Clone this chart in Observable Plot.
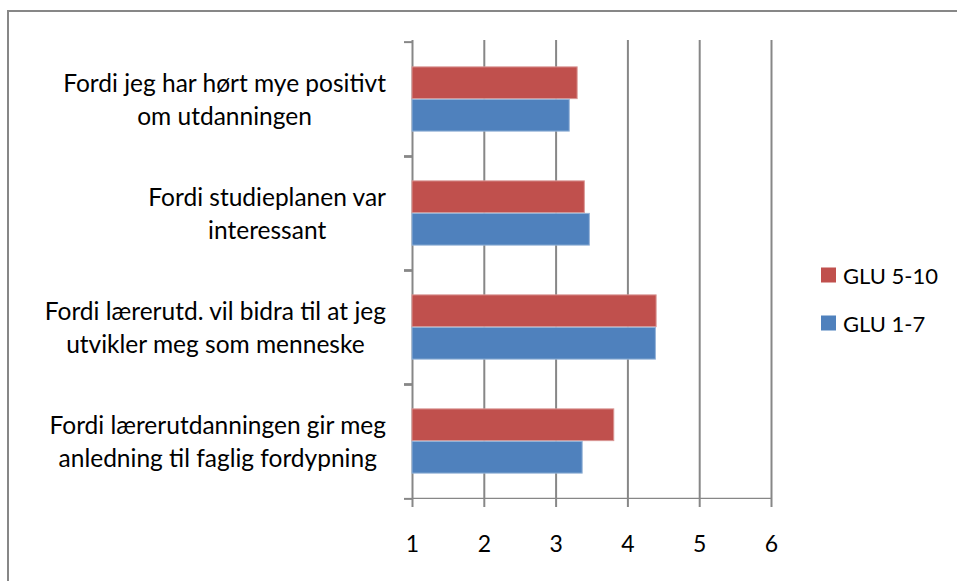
<!DOCTYPE html>
<html>
<head>
<meta charset="utf-8">
<script src="https://cdn.jsdelivr.net/npm/d3@7"></script>
<script src="https://cdn.jsdelivr.net/npm/@observablehq/plot@0.6"></script>
<style>
  html, body { margin: 0; padding: 0; background: #fff; }
  #wrap { position: relative; width: 957px; height: 581px; overflow: hidden; font-family: Lato, "Open Sans", sans-serif; color: #000; }
  #border { position: absolute; left: 7px; top: 10px; right: -10px; bottom: -10px; border-top: 2px solid #878787; border-left: 2px solid #878787; }
  #wrap svg { position: absolute; left: 0; top: 0; }
  .cat { position: absolute; right: 571px; text-align: center; font-size: 24.5px; font-weight: 400; line-height: 33px; transform: translateY(-50%); white-space: nowrap; }
  .leg { position: absolute; left: 821px; font-size: 22px; display: flex; align-items: center; white-space: nowrap; }
  .leg span.sw { display: inline-block; width: 15px; height: 15px; margin-right: 7px; }
</style>
</head>
<body>
<div id="wrap"><div id="border"></div></div>
<script>
const categories = [
  "Fordi jeg har hørt mye positivt\nom utdanningen",
  "Fordi studieplanen var\ninteressant",
  "Fordi lærerutd. vil bidra til at jeg\nutvikler meg som menneske",
  "Fordi lærerutdanningen gir meg\nanledning til faglig fordypning"
];
const seriesNames = ["GLU 5-10", "GLU 1-7"];
const glu510 = [3.30, 3.40, 4.40, 3.81];
const glu17 = [3.19, 3.47, 4.39, 3.37];
const xTicks = [1, 2, 3, 4, 5, 6];
const colors = ["#C0504D", "#4F81BD"];
const edgeColors = ["#D99694", "#95B3D7"];

const W = 957, H = 581;
const mTop = 40, mBottom = 82, mLeft = 412, mRight = 186;
const band = (H - mTop - mBottom) / categories.length;
const barH = 32.5;
const outer = (band - 2 * barH) / 2;

const rows510 = categories.map((c, i) => ({cat: c, v: glu510[i]}));
const rows17 = categories.map((c, i) => ({cat: c, v: glu17[i]}));
const gray = "#878787";
const lastCat = categories[categories.length - 1];

const plot = Plot.plot({
  width: W,
  height: H,
  marginTop: mTop,
  marginBottom: mBottom,
  marginLeft: mLeft,
  marginRight: mRight,
  style: {fontFamily: "Lato, 'Open Sans', sans-serif", fontSize: "23px", color: "#000", background: "transparent"},
  x: {domain: [xTicks[0], xTicks[xTicks.length - 1]], ticks: xTicks},
  y: {domain: categories, padding: 0, axis: null},
  marks: [
    Plot.gridX(xTicks, {stroke: gray, strokeOpacity: 1, strokeWidth: 2}),
    Plot.barX(rows510, {x1: xTicks[0], x2: "v", y: "cat", fill: colors[0], stroke: edgeColors[0], strokeWidth: 1, insetTop: outer, insetBottom: outer + barH}),
    Plot.barX(rows17, {x1: xTicks[0], x2: "v", y: "cat", fill: colors[1], stroke: edgeColors[1], strokeWidth: 1, insetTop: outer + barH, insetBottom: outer}),
    // bottom axis line along the lower edge of the last band
    Plot.barX([lastCat], {x1: xTicks[0], x2: xTicks[xTicks.length - 1], y: d => d, fill: gray, insetTop: band - 1, insetBottom: -1}),
    Plot.axisY(categories, {tickSize: 8, fill: "none", label: null, stroke: gray, strokeWidth: 2, dy: -band / 2}),
    Plot.axisY(categories, {tickSize: 8, fill: "none", label: null, stroke: gray, strokeWidth: 2, dy: band / 2}),
    Plot.axisX(xTicks, {tickSize: 8, tickPadding: 28, stroke: gray, strokeWidth: 2, fill: "#000", label: null})
  ]
});

const wrap = document.getElementById("wrap");
wrap.appendChild(plot);

const y = plot.scale("y");
const bw = y.bandwidth;
categories.forEach(c => {
  const d = document.createElement("div");
  d.className = "cat";
  d.innerHTML = c.split("\n").join("<br>");
  d.style.top = (y.apply(c) + bw / 2) + "px";
  wrap.appendChild(d);
});

const legTops = [274.5, 322.5];
seriesNames.forEach((s, i) => {
  const d = document.createElement("div");
  d.className = "leg";
  d.style.top = legTops[i] + "px";
  d.style.transform = "translateY(-50%)";
  d.innerHTML = `<span class="sw" style="background:${colors[i]}"></span>${s}`;
  wrap.appendChild(d);
});
</script>
</body>
</html>
